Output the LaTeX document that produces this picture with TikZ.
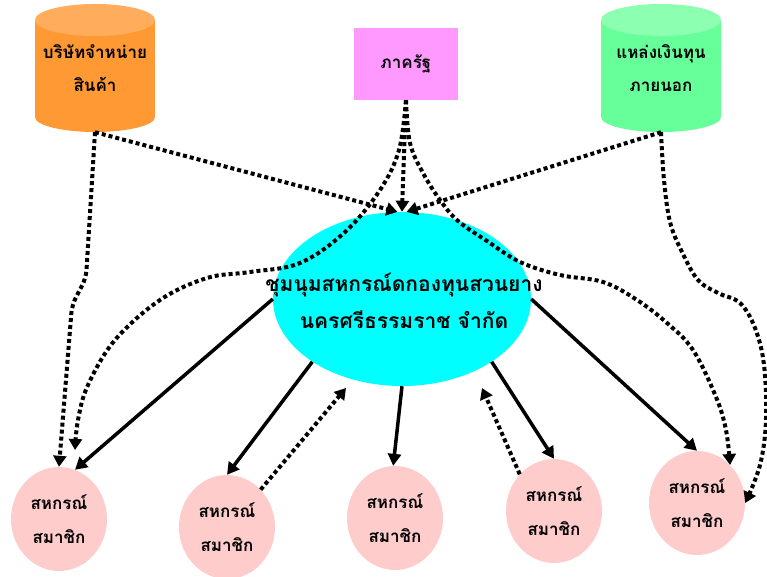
\documentclass[tikz,border=0pt]{standalone}
\usepackage{fontspec}
\newfontfamily\thaifont[Script=Thai]{Loma}
\usetikzlibrary{arrows.meta,shapes.geometric}
\definecolor{orbody}{HTML}{FF9933}
\definecolor{ortop}{HTML}{FFAD5C}
\definecolor{grbody}{HTML}{66FF99}
\definecolor{grtop}{HTML}{8CFFB0}
\definecolor{statepink}{HTML}{FF99FF}
\definecolor{hubcyan}{HTML}{00FFFF}
\definecolor{memberpink}{HTML}{FFCCCC}
\begin{document}
\begin{tikzpicture}[x=1pt,y=-1pt,
  dotline/.style={line width=4pt, dash pattern=on 4pt off 3pt},
  dotarrow/.style={dotline, -{Triangle[length=11pt,width=13pt]}},
  solidarrow/.style={line width=3.5pt, -{Triangle[length=12pt,width=13pt]}},
  member/.style={ellipse, fill=memberpink, minimum width=96pt, minimum height=104pt,
    inner sep=0pt, align=center, font=\thaifont\bfseries\fontsize{17}{34}\selectfont},
  cyltext/.style={rectangle, minimum width=120pt, minimum height=127pt, inner sep=0pt,
    align=center, font=\thaifont\bfseries\fontsize{17}{33}\selectfont},
  statebox/.style={rectangle, fill=statepink, minimum width=104pt, minimum height=72pt,
    inner sep=0pt, font=\thaifont\bfseries\fontsize{17}{33}\selectfont},
  hubshape/.style={ellipse, fill=hubcyan, minimum width=258pt, minimum height=174pt, inner sep=0pt},
  hubtext/.style={align=center, inner sep=0pt, font=\thaifont\bfseries\fontsize{21}{37}\selectfont}
]
\useasboundingbox (0,0) rectangle (767,577);

% cylinders
\fill[orbody] (35,20) rectangle (155,117);
\fill[orbody] (95,117) ellipse [x radius=60, y radius=15];
\fill[ortop] (95,20) ellipse [x radius=60, y radius=16];
\fill[grbody] (601,20) rectangle (721,117);
\fill[grbody] (661,117) ellipse [x radius=60, y radius=15];
\fill[grtop] (661,20) ellipse [x radius=60, y radius=16];

\node[cyltext] (dist) at (95,68.5) {บริษัทจำหน่าย\\สินค้า};
\node[cyltext] (fund) at (661,68.5) {แหล่งเงินทุน\\ภายนอก};
\node[statebox] (state) at (406,64) {ภาครัฐ};

\node[hubshape] (hub) at (402,299) {};

\node[member] (m1) at (59,519) {สหกรณ์\\สมาชิก};
\node[member] (m2) at (227,527) {สหกรณ์\\สมาชิก};
\node[member] (m3) at (395,518) {สหกรณ์\\สมาชิก};
\node[member] (m4) at (554,511) {สหกรณ์\\สมาชิก};
\node[member] (m5) at (697,503) {สหกรณ์\\สมาชิก};

\coordinate (e1) at (75,450);
\coordinate (t2) at (346,388);
\coordinate (t4) at (482,388);

% dotted from top
\draw[dotarrow] (dist.south) -- (hub.93);
\draw[dotarrow] (state.south) -- (hub.90);
\draw[dotarrow] (fund.south) -- (hub.87);
\draw[dotarrow, rounded corners=8pt] (dist.south) -- (86,278) -- (72,305) -- (m1.north);
\draw[dotarrow] plot[smooth, tension=0.6] coordinates {(state.south) (399,150) (380,190) (345,232) (300,263) (250,272) (207,278) (160,300) (115,340) (88,385) (78,420) (e1)};
\draw[dotarrow] plot[smooth, tension=0.6] coordinates {(state.south) (410,143) (423,173) (440,200) (458,221) (487,241) (520,262) (560,275) (603,282) (637,300) (667,323) (693,350) (716,397) (726,430) (m5.49)};
\draw[dotarrow] plot[smooth, tension=0.6] coordinates {(fund.south) (664,180) (670,222) (682,252) (698,280) (718,293) (740,303) (755,328) (764,365) (766,420) (760,465) (m5.east)};

% solid arrows hub -> members
\draw[solidarrow] (hub.180) -- (m1.72);
\draw[solidarrow] (hub.215) -- (m2.90);
\draw[solidarrow] (hub.270) -- (m3.92);
\draw[solidarrow] (hub.325) -- (m4.90);
\draw[solidarrow] (hub.0) -- (m5.90);

% dotted members -> hub
\draw[dotarrow] (m2.48) -- (t2);
\draw[dotarrow] (m4.133) -- (t4);

\node[hubtext] (hubt) at (404,301) {ชุมนุมสหกรณ์ดกองทุนสวนยาง\\นครศรีธรรมราช จำกัด};
\end{tikzpicture}
\end{document}
